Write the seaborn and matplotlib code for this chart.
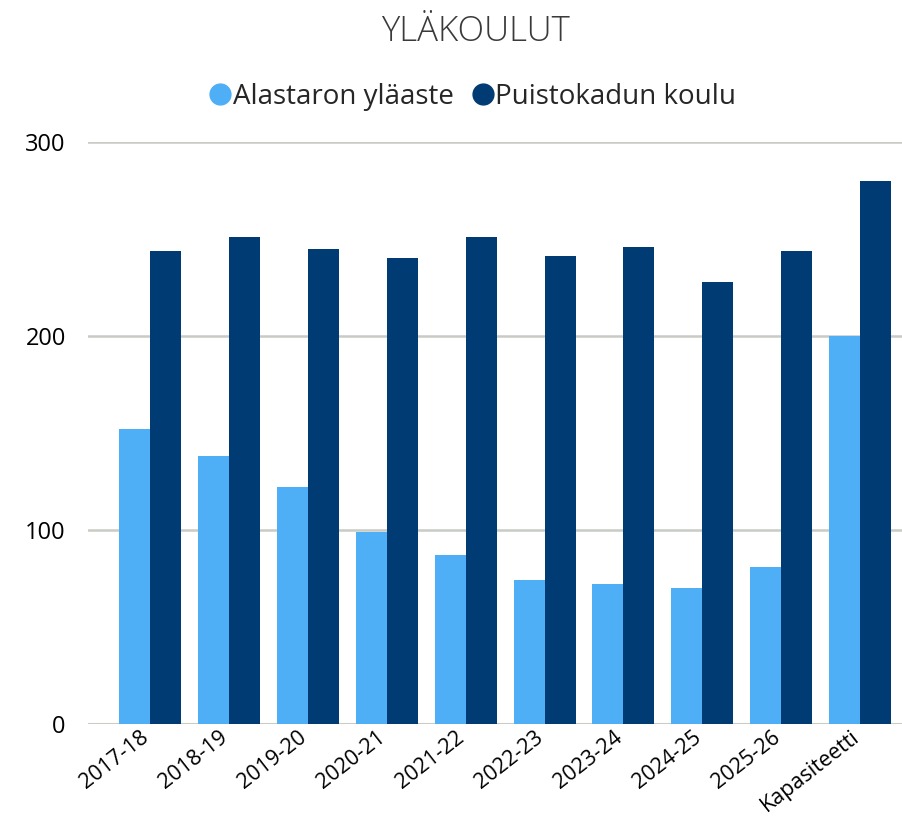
import matplotlib
matplotlib.use("Agg")
import matplotlib.pyplot as plt
import matplotlib.transforms as mtrans
import seaborn as sns
import pandas as pd
from matplotlib.lines import Line2D

categories = ["2017-18", "2018-19", "2019-20", "2020-21", "2021-22", "2022-23",
              "2023-24", "2024-25", "2025-26", "Kapasiteetti"]
alastaro = [152, 138, 122, 99, 87, 74, 72, 70, 81, 200]
puistokatu = [244, 251, 245, 240, 251, 241, 246, 228, 244, 280]
series_names = ["Alastaron yläaste", "Puistokadun koulu"]
yticks = [0, 100, 200, 300]

df = pd.DataFrame({
    "cat": categories * 2,
    "val": alastaro + puistokatu,
    "series": [series_names[0]] * len(categories) + [series_names[1]] * len(categories),
})

sns.set_theme(style="white")
plt.rcParams['font.family'] = ['Open Sans', 'DejaVu Sans']

fig = plt.figure(figsize=(9.02, 8.23), dpi=100)
ax = fig.add_axes([88 / 902, 99 / 823, (902 - 88) / 902, (724 - 142) / 823])

palette = {series_names[0]: "#4EAEF6", series_names[1]: "#013B73"}
sns.barplot(data=df, x="cat", y="val", hue="series", palette=palette,
            width=0.786, gap=0, ax=ax, legend=False, saturation=1, zorder=3,
            linewidth=0, edgecolor="none")

ax.set_ylim(0, 300)
ax.set_xlim(-0.5 - 0.285, 9.5 + 0.03)
ax.set_yticks(yticks)
ax.yaxis.grid(True, color="#C8CCC4", linewidth=1.8, zorder=0)
ax.set_axisbelow(True)
for s in ax.spines.values():
    s.set_visible(False)
ax.axhline(0, color="#C8CCC4", linewidth=2.2, zorder=2)
ax.set_xlabel("")
ax.set_ylabel("")
ax.tick_params(axis="y", labelsize=17, colors="#000000", length=0, pad=16)
ax.tick_params(axis="x", labelsize=15.5, colors="#000000", length=0, pad=2)
offset = mtrans.ScaledTranslation(-10 / 100, 0, fig.dpi_scale_trans)
for lab in ax.get_xticklabels():
    lab.set_rotation(38)
    lab.set_ha("right")
    lab.set_rotation_mode("anchor")
    lab.set_transform(lab.get_transform() + offset)

fig.text(475 / 902, 1 - 32 / 823, "YLÄKOULUT", ha="center", va="center",
         fontsize=25, color="#3A3A3A", fontweight="light")

handles = [Line2D([], [], marker="o", linestyle="", markersize=15,
                  markerfacecolor=palette[n], markeredgecolor=palette[n]) for n in series_names]
fig.legend(handles, series_names, loc="center", bbox_to_anchor=(472 / 902, 1 - 97 / 823),
           ncol=2, frameon=False, fontsize=20, handletextpad=0.0, columnspacing=0.6,
           handlelength=0.9)

fig.savefig("out.png", dpi=100)
